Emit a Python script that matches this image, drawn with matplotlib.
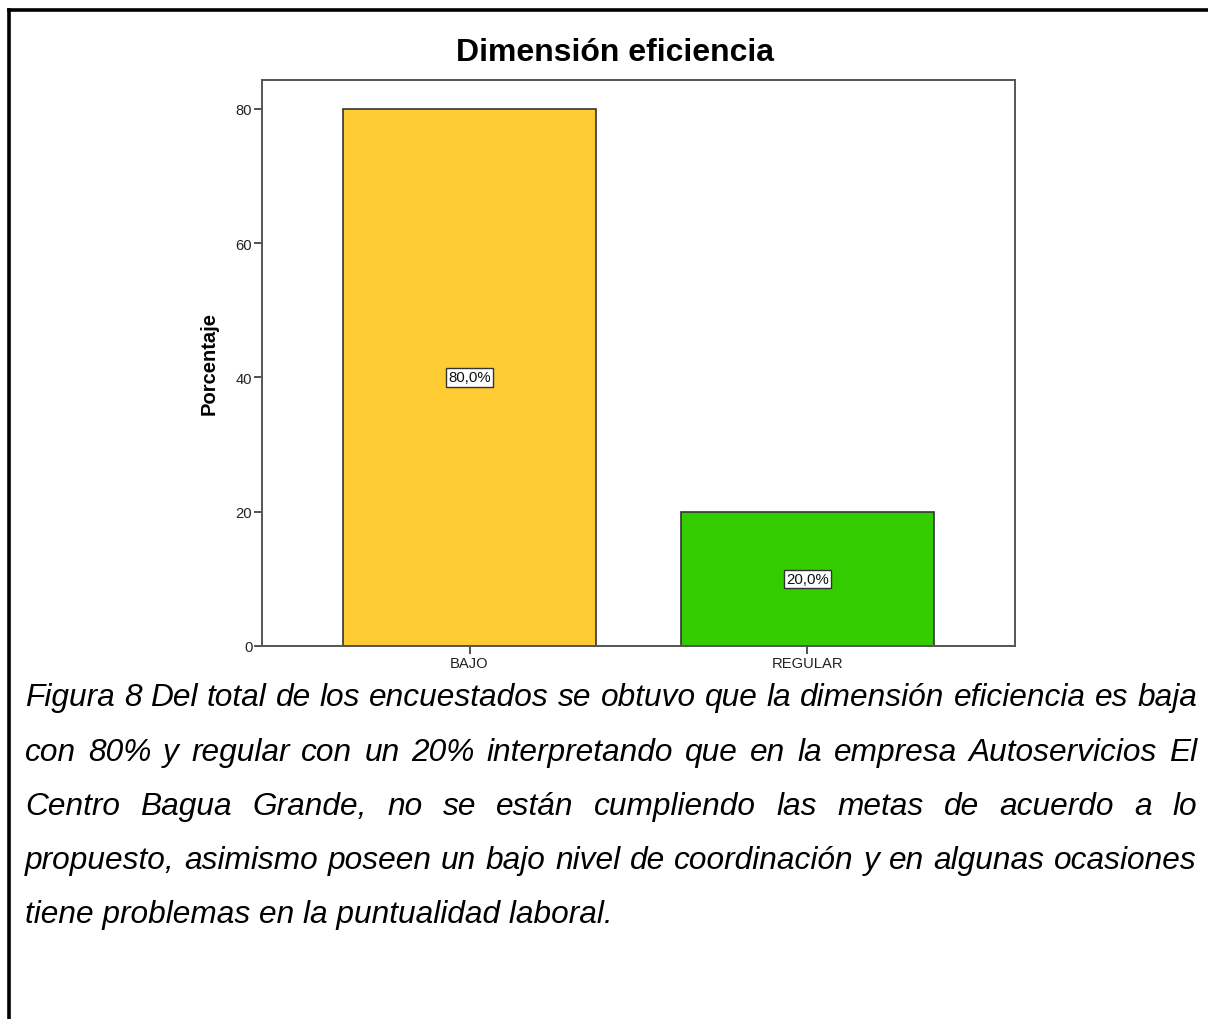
import numpy as np
import matplotlib.pyplot as plt
from matplotlib.lines import Line2D

plt.rcParams['font.family'] = ['Liberation Sans', 'DejaVu Sans']

# Data ------------------------------------------------------------------------
categories = ['BAJO', 'REGULAR']
percent = [80.0, 20.0]
bar_labels = ['80,0%', '20,0%']
bar_colors = ['#FFCC33', '#33CC00']
yticks = [0, 20, 40, 60, 80]
caption_lines = [
    'Figura 8 Del total de los encuestados se obtuvo que la dimensión eficiencia es baja',
    'con 80% y regular con un 20% interpretando que en la empresa Autoservicios El',
    'Centro Bagua Grande, no se están cumpliendo las metas de acuerdo a lo',
    'propuesto, asimismo poseen un bajo nivel de coordinación y en algunas ocasiones',
    'tiene problemas en la puntualidad laboral.',
]

W, H = 1208, 1020
fig = plt.figure(figsize=(W/100, H/100), dpi=100)

# Outer frame (top and left edges only) ---------------------------------------
fig.add_artist(Line2D([9/W, 1], [1-11/H, 1-11/H], color='black', lw=2.6,
                      transform=fig.transFigure))
fig.add_artist(Line2D([9/W, 9/W], [0, 1-11/H], color='black', lw=2.6,
                      transform=fig.transFigure))

# Bar chart ------------------------------------------------------------------
ax = fig.add_axes([262/W, 1-647/H, (1015-262)/W, (647-81)/H])
x = np.arange(len(categories))
ax.bar(x, percent, width=0.75, color=bar_colors, edgecolor='#333333', lw=1.2)
for (xi, v, lab) in zip(x, percent, bar_labels):
    ax.text(xi, v/2, lab, ha='center', va='center', fontsize=10.8, color='#111111',
            bbox=dict(boxstyle='square,pad=0.15', fc='white', ec='#333333', lw=1))
ax.set_xlim(-0.614, 1.614)
ax.set_ylim(0, 84.3)
ax.set_xticks(x)
ax.set_xticklabels(categories, fontsize=10.6, color='#222222')
ax.set_yticks(yticks)
ax.set_yticklabels([str(t) for t in yticks], fontsize=10.6, color='#222222')
ax.tick_params(length=6, width=1.3, color='#444444', pad=1)
for s in ax.spines.values():
    s.set_color('#555555')
    s.set_linewidth(1.4)
ax.set_ylabel('Porcentaje', fontsize=14.5, fontweight='bold', labelpad=12)
fig.text(615/W, 1-53/H, 'Dimensión eficiencia', ha='center', va='center',
         fontsize=23, fontweight='bold')

# Justified caption ------------------------------------------------------------
renderer = fig.canvas.get_renderer()
(x0, x1) = (25, 1197)
baselines = [706, 761, 815, 869, 923]
fs = 22.8
for (i, line) in enumerate(caption_lines):
    yb = 1 - baselines[i]/H
    words = line.split(' ')
    last = (i == len(caption_lines)-1)
    if last:
        fig.text(x0/W, yb, line, ha='left', va='baseline', fontsize=fs,
                 style='italic')
        continue
    txts = [fig.text(0, yb, w, ha='left', va='baseline', fontsize=fs,
                     style='italic') for w in words]
    widths = [t.get_window_extent(renderer).width for t in txts]
    gap = ((x1-x0) - sum(widths))/(len(words)-1)
    pos = x0
    for (t, wd) in zip(txts, widths):
        t.set_x(pos/W)
        pos += wd + gap

fig.savefig('out.png', dpi=100, facecolor='white')
